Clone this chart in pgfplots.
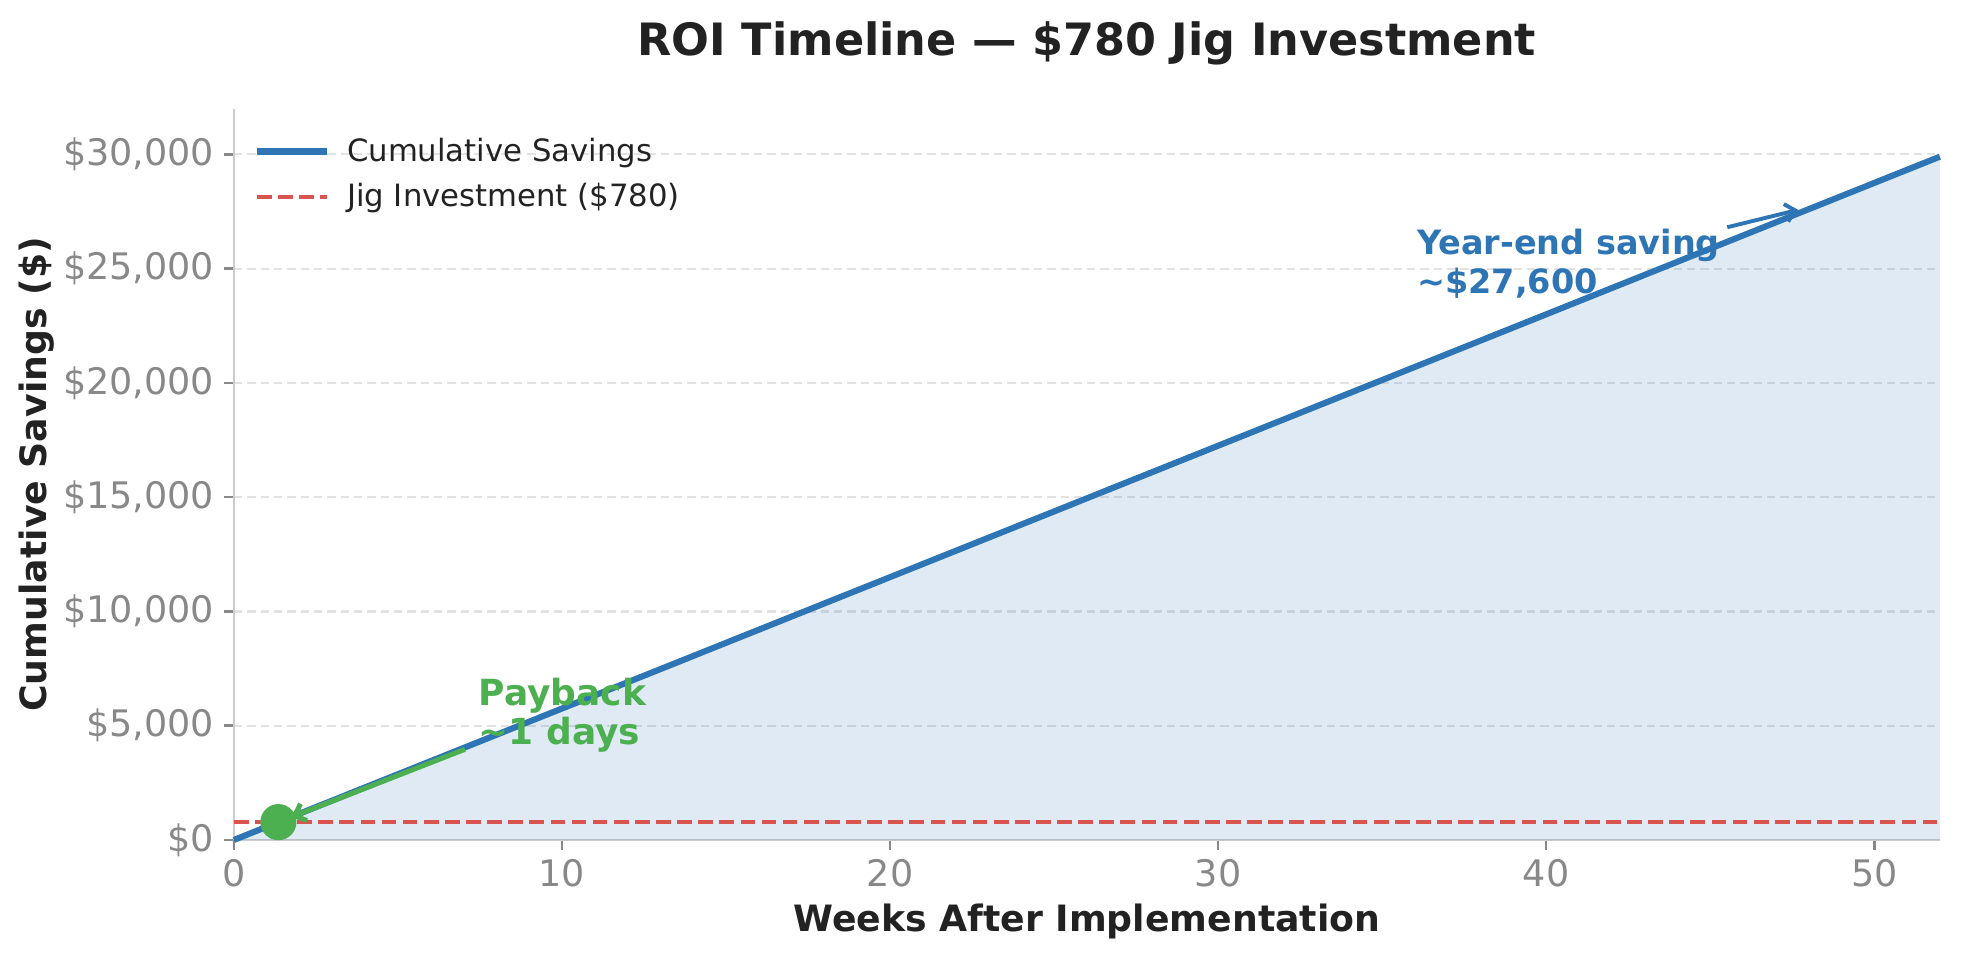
\documentclass[border=0pt]{standalone}
\usepackage{fontspec}
\setmainfont{DejaVu Sans}
\usepackage{pgfplots}
\usepackage{pgfplotstable}
\pgfplotsset{compat=1.18}
\usetikzlibrary{arrows.meta}

\definecolor{cblue}{HTML}{2E75B6}
\definecolor{cred}{HTML}{D9534F}
\definecolor{cgreen}{HTML}{4CAF50}
\definecolor{tickgray}{HTML}{888888}
\definecolor{spine}{HTML}{CCCCCC}
\definecolor{gridc}{HTML}{E2E2E2}
\definecolor{ink}{HTML}{222222}

% cumulative savings per week
\pgfplotstableread{
week savings
0 0
1 575
2 1150
3 1725
4 2300
5 2875
6 3450
7 4025
8 4600
9 5175
10 5750
11 6325
12 6900
13 7475
14 8050
15 8625
16 9200
17 9775
18 10350
19 10925
20 11500
21 12075
22 12650
23 13225
24 13800
25 14375
26 14950
27 15525
28 16100
29 16675
30 17250
31 17825
32 18400
33 18975
34 19550
35 20125
36 20700
37 21275
38 21850
39 22425
40 23000
41 23575
42 24150
43 24725
44 25300
45 25875
46 26450
47 27025
48 27600
49 28175
50 28750
51 29325
52 29900
}\savings

\begin{document}
\begin{tikzpicture}
\begin{axis}[
    scale only axis,
    width=614.2bp, height=263.2bp,
    xmin=0, xmax=52, ymin=0, ymax=31990,
    axis x line*=bottom, axis y line*=left,
    axis line style={spine, line width=0.9bp},
    tick align=outside,
    major tick length=3.6bp,
    tick style={tickgray, line width=0.9bp},
    scaled y ticks=false,
    xtick={0,10,20,30,40,50},
    xticklabels={0,10,20,30,40,50},
    ytick={0,5000,10000,15000,20000,25000,30000},
    yticklabels={\$0,{\$5,000},{\$10,000},{\$15,000},{\$20,000},{\$25,000},{\$30,000}},
    ticklabel style={font=\fontsize{13.2}{15}\selectfont, text=tickgray},
    ymajorgrids,
    grid style={gridc, line width=0.8bp, dash pattern=on 3bp off 1.8bp},
    legend cell align=left,
    legend style={at={(rel axis cs:0,1)}, anchor=north west,
        xshift=4bp, yshift=-6.2bp,
        draw=none, fill=none,
        font=\fontsize{11.1}{12}\selectfont, text=ink,
        row sep=2.5bp},
    legend style={/tikz/every odd column/.append style={column sep=4bp}},
    legend image code/.code={\draw[#1] (0bp,0bp) -- (25.4bp,0bp);},
    clip=false,
]
\addplot[draw=none, fill=cblue, fill opacity=0.15, forget plot]
    table[x=week, y=savings] {\savings} \closedcycle;
\addplot[cblue, line width=2.2bp] table[x=week, y=savings] {\savings};
\addlegendentry{Cumulative Savings}
\addplot[cred, line width=1.44bp, dash pattern=on 5.3bp off 2.3bp]
    coordinates {(0,780) (52,780)};
\addlegendentry{Jig Investment (\$780)}
\addplot[only marks, mark=*, mark size=6.3bp, cgreen, forget plot]
    coordinates {(1.357,780)};

\draw[cgreen, line width=1.8bp, -{Straight Barb[length=3.5bp, width=6.5bp]}]
    (axis cs:7.04,3965) -- (axis cs:1.75,1000);
\node[anchor=north west, inner sep=0pt, align=left, text=cgreen,
      font=\bfseries\fontsize{13}{14.1}\selectfont]
    at (axis cs:7.45,7113) {Payback\\\textasciitilde1 days};

\draw[cblue, line width=1.4bp, -{Straight Barb[length=3.5bp, width=6.5bp]}]
    (axis cs:45.52,26811) -- (axis cs:47.68,27572);
\node[anchor=north west, inner sep=0pt, align=left, text=cblue,
      font=\bfseries\fontsize{12.1}{13.8}\selectfont]
    at (axis cs:36.05,26741) {Year-end saving\\\textasciitilde\$27,600};

\coordinate (sw) at (rel axis cs:0,0);
\coordinate (ne) at (rel axis cs:1,1);
\coordinate (top) at (rel axis cs:0.5,1);
\coordinate (bot) at (rel axis cs:0.5,0);
\coordinate (lft) at (rel axis cs:0,0.5);
\end{axis}

\node[anchor=base, text=ink, font=\bfseries\fontsize{16.1}{19}\selectfont]
    at ([yshift=19.1bp]top) {ROI Timeline — \$780 Jig Investment};
\node[anchor=base, text=ink, font=\bfseries\fontsize{13.1}{16}\selectfont]
    at ([yshift=-33bp]bot) {Weeks After Implementation};
\node[anchor=base, rotate=90, text=ink, font=\bfseries\fontsize{13.1}{16}\selectfont]
    at ([xshift=-67.3bp]lft) {Cumulative Savings (\$)};

\pgfresetboundingbox
\path ([shift={(-84.2bp,-42.8bp)}]sw) rectangle ([shift={(7.6bp,39.2bp)}]ne);
\end{tikzpicture}
\end{document}
